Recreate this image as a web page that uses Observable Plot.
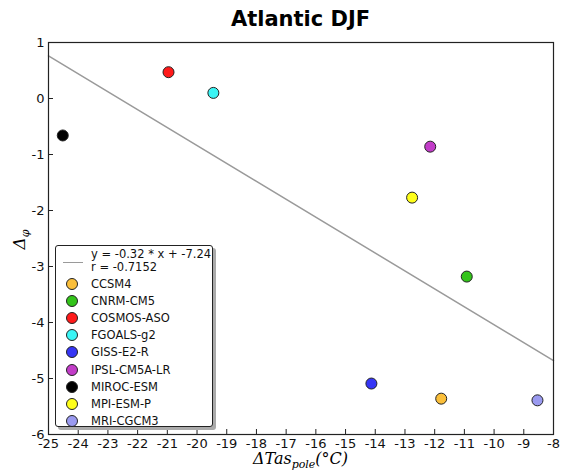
<!DOCTYPE html>
<html><head><meta charset="utf-8">
<script src="https://cdn.jsdelivr.net/npm/d3@7"></script>
<script src="https://cdn.jsdelivr.net/npm/@observablehq/plot@0.6"></script>
<style>
body{margin:0;background:#fff;font-family:"DejaVu Sans",sans-serif;}
#wrap{position:relative;width:562px;height:473px;overflow:hidden;}
#title{position:absolute;left:48px;width:505px;top:7px;text-align:center;font-weight:bold;font-size:21px;color:#000;}
#ylab{position:absolute;left:2px;top:228px;width:36px;text-align:center;transform:rotate(-90deg);font-family:"DejaVu Serif",serif;font-style:italic;font-size:17px;}
#xlab{position:absolute;left:48px;width:505px;top:449px;text-align:center;font-family:"DejaVu Serif",serif;font-style:italic;font-size:16px;}
sub{font-size:11px;vertical-align:-4px;}
#legend{position:absolute;left:55px;top:245px;width:156px;height:180px;border:1px solid #222;border-radius:3px;background:#fff;box-shadow:3px 3px 0 #aaa;font-size:11.5px;color:#111;}
.row{position:absolute;left:0;height:16px;line-height:16px;white-space:nowrap;}
.sw{position:absolute;left:10px;top:2px;width:10px;height:10px;border:1px solid #222;border-radius:50%;}
.lab{position:absolute;left:35px;top:0;}
</style></head><body><div id="wrap"><div id="title"></div><div id="ylab">Δ<sub>φ</sub></div><div id="xlab">ΔTas<sub>pole</sub>(°C)</div></div>
<script>
const models = ["CCSM4","CNRM-CM5","COSMOS-ASO","FGOALS-g2","GISS-E2-R","IPSL-CM5A-LR","MIROC-ESM","MPI-ESM-P","MRI-CGCM3"];
const dTas = [-11.78, -10.92, -20.96, -19.45, -14.13, -12.15, -24.52, -12.76, -8.54];
const dPhi = [-5.36, -3.18, 0.47, 0.10, -5.09, -0.86, -0.66, -1.77, -5.39];
const colors = ["#fbbf3a","#33c41a","#ff1a1a","#3af5f5","#3535f5","#c23cc8","#000000","#ffff1a","#9a9af0"];
const fitSlope = -0.32, fitIntercept = -7.24, fitR = -0.7152;
const xTicks = [-25,-24,-23,-22,-21,-20,-19,-18,-17,-16,-15,-14,-13,-12,-11,-10,-9,-8];
const yTicks = [-6,-5,-4,-3,-2,-1,0,1];
const titleText = "Atlantic DJF";

const pts = models.map((m,i)=>({model:m, x:dTas[i], y:dPhi[i], c:colors[i]}));
const fitX = [xTicks[0], xTicks[xTicks.length-1]];
const fit = fitX.map(x=>({x, y: fitSlope*x + fitIntercept}));

const fmt = d => String(d);
const chart = Plot.plot({
  width: 562, height: 473,
  marginLeft: 48, marginRight: 9, marginTop: 42, marginBottom: 39,
  style: {fontFamily: "DejaVu Sans, sans-serif", fontSize: "13px", color: "#111", background: "transparent"},
  x: {domain: [-25, -8]},
  y: {domain: [-6, 1]},
  marks: [
    Plot.axisX({ticks: xTicks, tickFormat: fmt, tickSize: -5, tickPadding: 9, label: null, fontSize: 13, stroke: "#222"}),
    Plot.axisY({ticks: yTicks, tickFormat: fmt, tickSize: -5, tickPadding: 9, label: null, fontSize: 13, stroke: "#222"}),
    Plot.line(fit, {x: "x", y: "y", stroke: "#9a9a9a", strokeWidth: 1.5}),
    Plot.dot(pts, {x: "x", y: "y", fill: "c", r: 5.5, stroke: "#222", strokeWidth: 1}),
    Plot.frame({stroke: "#222", strokeWidth: 1.2})
  ]
});
const wrap = document.getElementById("wrap");
chart.style.position = "absolute"; chart.style.left = "0"; chart.style.top = "0";
wrap.insertBefore(chart, wrap.firstChild);
document.getElementById("title").textContent = titleText;

const leg = document.createElement("div");
leg.id = "legend";
const top0 = document.createElement("div");
top0.className = "row"; top0.style.top = "1px"; top0.style.height = "30px";
top0.innerHTML = `<div style="position:absolute;left:7px;top:15px;width:20px;height:0;border-top:1.5px solid #9a9a9a"></div>
<div class="lab" style="line-height:13px;top:1px">y = ${fitSlope} * x + ${fitIntercept}<br>r = ${fitR}</div>`;
leg.appendChild(top0);
models.forEach((m,i)=>{
  const r = document.createElement("div");
  r.className = "row"; r.style.top = (30 + i*17.1) + "px";
  r.innerHTML = `<div class="sw" style="background:${colors[i]}"></div><div class="lab">${m}</div>`;
  leg.appendChild(r);
});
wrap.appendChild(leg);
</script></body></html>
